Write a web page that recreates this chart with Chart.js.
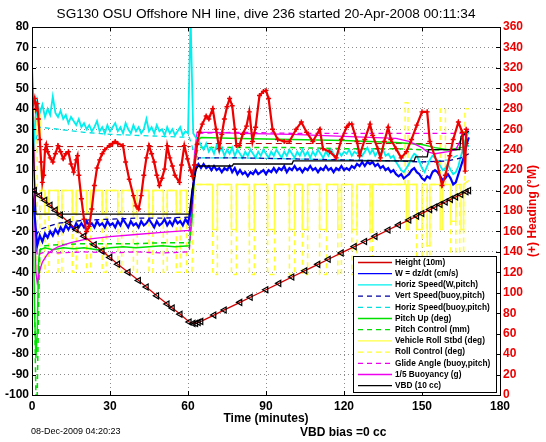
<!DOCTYPE html>
<html>
<head>
<meta charset="utf-8">
<script src="https://cdn.jsdelivr.net/npm/chart.js@4.4.0/dist/chart.umd.min.js"></script>
<style>
  body { margin: 0; background: #fff; }
</style>
</head>
<body>
<canvas id="dive" width="546" height="442"></canvas>
<script>
const FONT = "'Liberation Sans', Arial, Helvetica, sans-serif";

// time axis (minutes) shared by the noisy speed traces
const minutes = [
  0, 1, 2, 3, 4, 5, 6, 7, 8, 9, 10, 11, 12, 13, 14, 15, 16, 17, 18, 19,
  20, 21, 22, 23, 24, 25, 26, 27, 28, 29, 30, 31, 32, 33, 34, 35, 36, 37, 38, 39,
  40, 41, 42, 43, 44, 45, 46, 47, 48, 49, 50, 51, 52, 53, 54, 55, 56, 57, 58, 59,
  60, 61, 62, 63, 64, 65, 66, 67, 68, 69, 70, 71, 72, 73, 74, 75, 76, 77, 78, 79,
  80, 81, 82, 83, 84, 85, 86, 87, 88, 89, 90, 91, 92, 93, 94, 95, 96, 97, 98, 99,
  100, 101, 102, 103, 104, 105, 106, 107, 108, 109, 110, 111, 112, 113, 114, 115, 116, 117, 118, 119,
  120, 121, 122, 123, 124, 125, 126, 127, 128, 129, 130, 131, 132, 133, 134, 135, 136, 137, 138, 139,
  140, 141, 142, 143, 144, 145, 146, 147, 148, 149, 150, 151, 152, 153, 154, 155, 156, 157, 158, 159,
  160, 161, 162, 163, 164, 165, 166, 167, 168
];

// W = dz/dt (cm/s)
const wSpeed = [
  0, -12, -27, -22, -25, -21, -23, -20, -22, -19, -21, -18, -20, -17, -19, -17, -19, -16, -18, -16,
  -18, -15, -17, -16, -18, -15, -17, -16, -18, -15, -17, -16, -18, -15, -17, -14, -16, -18, -15, -17,
  -16, -18, -15, -17, -16, -14, -16, -18, -15, -17, -16, -14, -17, -15, -17, -14, -16, -15, -17, -14,
  -16, -10, 2, 11, 13, 11, 13, 11, 12, 10, 12, 10, 11, 9, 11, 10, 12, 9, 11, 8,
  10, 8, 9, 7, 9, 8, 10, 8, 9, 10, 8, 10, 9, 11, 9, 11, 10, 12, 9, 11,
  10, 12, 10, 11, 9, 11, 10, 12, 10, 11, 9, 11, 10, 12, 10, 11, 9, 11, 10, 12,
  10, 11, 10, 12, 11, 13, 12, 14, 12, 14, 13, 14, 12, 13, 11, 12, 10, 11, 9, 10,
  8, 7, 8, 6, 7, 8, 10, 11, 9, 8, 6, 5, 7, 6, 9, 10, 9, 7, 5, 6,
  8, 6, 3, 4, 8, 12, 16, 22, 26
];

// Horiz Speed (W,pitch)
const horizW = [
  10, 30, 44, 38, 42, 36, 40, 37, 46, 38, 36, 39, 35, 37, 33, 36, 34, 32, 35, 31,
  33, 30, 32, 29, 31, 34, 29, 31, 28, 32, 29, 31, 33, 29, 31, 28, 33, 30, 28, 32,
  29, 31, 28, 30, 35, 29, 31, 28, 32, 29, 30, 27, 31, 28, 30, 27, 29, 31, 27, 29,
  28, 85, 28, 26, 25, 22, 20, 23, 19, 21, 18, 22, 19, 21, 17, 20, 18, 21, 17, 20,
  18, 16, 19, 17, 20, 18, 16, 19, 17, 20, 18, 16, 19, 17, 20, 18, 16, 19, 17, 20,
  18, 16, 19, 17, 20, 17, 19, 16, 19, 17, 20, 18, 16, 19, 17, 20, 18, 16, 19, 17,
  19, 18, 20, 17, 19, 18, 20, 17, 19, 21, 18, 20, 17, 19, 18, 20, 17, 18, 16, 17,
  14, 12, 10, 9, 11, 13, 16, 18, 17, 14, 11, 9, 12, 15, 17, 16, 14, 12, 10, 11,
  13, 10, 8, 9, 12, 17, 21, 26, 29
];

// Height (10m)
const heightT = [1, 3, 5, 7, 9, 11, 14, 17, 20, 24, 27, 30, 33, 37, 41, 44, 48, 52, 54, 57, 60.5, 62, 63, 64, 65,
  70, 74, 80, 84, 90, 95, 100, 105, 110, 114, 119, 124, 128, 132, 137, 141, 145, 148, 150, 153, 155, 157, 159, 161, 163, 165, 167, 168];
const heightV = [0, -2.4, -4.8, -7.2, -9.6, -12, -15.5, -19, -22.3, -26.5, -29.6, -32.7, -36, -40, -44, -47.2, -51.5, -55.5, -57.5, -60.5, -64.3, -65, -65, -64.5, -64,
  -60.9, -58.4, -54.7, -52.2, -48.5, -45.4, -42.3, -39.2, -36.1, -33.6, -30.5, -27.4, -24.9, -22.4, -19.3, -16.8, -14.4, -12.5, -11.2, -9.3, -8.1, -6.8, -5.6, -4.3, -3.1, -1.9, -0.6, 0];

// Vert Speed (buoy,pitch)
const vertBuoyT = [1.5, 3, 10, 20, 30, 40, 50, 60.5, 61.5, 62.5, 64, 80, 100, 120, 140, 150, 160, 165, 168];
const vertBuoyV = [-22, -19, -16, -14.5, -14, -13.5, -13.5, -13, -6, 8, 16, 16, 15.5, 15, 14.5, 14, 14.5, 16, 18];

// Horiz Speed (buoy,pitch)
const horizBuoyT = [1.5, 3, 10, 20, 30, 40, 50, 60.5, 61.5, 62.5, 64, 80, 100, 120, 140, 150, 160, 165, 168];
const horizBuoyV = [25, 31, 30, 28.5, 27.5, 27, 26.5, 26, 22, 18, 16, 16, 15.5, 15, 14.5, 14, 15, 18, 22];

// Pitch Up (deg)
const pitchT = [0, 0.5, 1, 1.5, 2, 2.5, 3, 5, 8, 12, 16, 20, 25, 30, 35, 40, 45, 50, 55, 60.5, 61.5, 62.5, 63.5, 65, 80, 100, 120, 140, 150, 155, 160, 165, 168];
const pitchV = [10, -20, -60, -82, -70, -35, -29, -28, -29, -28, -28.5, -28, -29, -28, -27.5, -28, -27.5, -27, -27.5, -27, -15, 10, 24, 26, 25.5, 25, 24.5, 23.5, 22.5, 21, 20, 21, 22];

// Pitch Control (mm)
const pitchCtlT = [1, 1.5, 2, 2.5, 3, 3.5, 5, 10, 20, 30, 40, 50, 60.5, 61.5, 62.5, 64, 80, 100, 120, 140, 150, 160, 168];
const pitchCtlV = [-60, -100, -100, -60, -30, -28, -27, -26.5, -26, -26, -26, -25.5, -25.5, -5, 15, 21, 21, 21, 20.5, 20.5, 20, 20, 20];

// Glide Angle (buoy,pitch)
const glideT = [1.5, 2, 3, 5, 10, 20, 30, 40, 50, 60.5, 61.5, 62.5, 64, 80, 100, 120, 140, 150, 160, 165, 168];
const glideV = [-20, -32, -31, -30, -30.5, -30, -30.5, -30, -30.5, -30, -10, 15, 28, 28.5, 28, 28, 28, 28, 28, 28, 28];

// 1/5 Buoyancy (g)
const buoyT = [0, 0.5, 1, 1.5, 2, 3, 4, 6, 8, 10, 15, 20, 30, 40, 50, 60.5, 61.5, 62.5, 63.5, 70, 80, 100, 120, 140, 145, 150, 152, 155, 160, 163, 165, 168];
const buoyV = [65, 45, -10, -40, -45, -39, -35, -31, -29, -27.5, -25.5, -24, -22.5, -21.5, -20.5, -19.5, -10, 18, 28.5, 28.5, 28, 27.5, 26.5, 25.5, 24, 21, 19, 18, 19, 20, 25, 30];

// VBD (10 cc)
const vbdT = [0, 0.8, 1.5, 60.5, 61.5, 63, 64, 77, 77.5, 100, 100.5, 147, 147.5, 152, 152.5, 164.5, 165, 168];
const vbdV = [45, 10, -11.5, -11.5, 0, 10, 12, 12, 13, 13, 14.5, 14.5, 16.5, 16.5, 20, 20, 26.5, 29];

// Vehicle Roll Stbd (deg)
const rollT = [0, 1, 1.5, 2, 3, 3.5, 4,
  5, 5, 6.5, 6.5, 10, 10, 11.5, 11.5, 15.5, 15.5, 17, 17, 21, 21, 22.5, 22.5,
  27, 27, 28.5, 28.5, 33, 33, 34.5, 34.5, 39, 39, 40.5, 40.5, 45, 45, 46.5, 46.5,
  50.5, 50.5, 52, 52, 55.5, 55.5, 57, 57, 59.5, 59.5, 61.5, 62.5,
  69.5, 69.5, 71.3, 71.3, 76.7, 76.7, 78.6, 78.6, 83.6, 83.6, 85.5, 85.5,
  90.6, 90.6, 93.3, 93.3, 99, 99, 101, 101, 104, 104, 106, 106,
  110.6, 110.6, 113.3, 113.3, 117.6, 117.6, 119, 119, 123, 123, 125, 125,
  130, 130, 131, 131, 144, 144, 145, 145, 148, 148, 150, 150,
  152, 152, 153, 153, 157, 157, 158, 158, 161, 161, 163, 163, 165, 165, 166, 166, 168];
const rollV = [0, -15, 40, 42, 38, 10, 0,
  0, -11, -11, 0, 0, -11, -11, 0, 0, -11, -11, 0, 0, -11, -11, 0,
  0, -11, -11, 0, 0, -11, -11, 0, 0, -11, -11, 0, 0, -11, -11, 0,
  0, -11, -11, 0, 0, -11, -11, 0, 0, -11, -11, 3,
  3, -19, -19, 3, 3, -19, -19, 3, 3, -19, -19, 3,
  3, -19, -19, 3, 3, -19, -19, 3, 3, -19, -19, 3,
  3, -19, -19, 3, 3, -19, -19, 3, 3, -19, -19, 3,
  3, -19, -19, 3, 3, -19, -19, 3, 3, -19, -19, 3,
  3, -27, -27, 3, 3, -19, -19, 3, 3, -15, -15, 3, 3, -19, -19, 3, 5];

// Roll Control (deg)
const rollCtlT = [0, 1.2, 1.2, 2, 2, 3, 3,
  5, 5, 6.5, 6.5, 10, 10, 11.5, 11.5, 15.5, 15.5, 17, 17, 21, 21, 22.5, 22.5,
  27, 27, 28.5, 28.5, 33, 33, 34.5, 34.5, 39, 39, 40.5, 40.5, 45, 45, 46.5, 46.5,
  50.5, 50.5, 52, 52, 55.5, 55.5, 57, 57, 59.5, 59.5, 61.5, 62.5,
  69.5, 69.5, 71.3, 71.3, 76.7, 76.7, 78.6, 78.6, 83.6, 83.6, 85.5, 85.5,
  90.6, 90.6, 93.3, 93.3, 99, 99, 101, 101, 104, 104, 106, 106,
  110.6, 110.6, 113.3, 113.3, 117.6, 117.6, 119, 119, 123, 123, 125, 125,
  130, 130, 131, 131, 143.5, 143.5, 144.6, 144.6, 148, 148, 150, 150,
  152, 152, 153, 153, 157, 157, 159, 159, 161, 161, 163, 163,
  164.5, 164.5, 166, 166, 166.5, 166.5, 168];
const rollCtlV = [0, 0, 40, 40, -40, -40, 0,
  0, -40, -40, 0, 0, -40, -40, 0, 0, -40, -40, 0, 0, -40, -40, 0,
  0, -40, -40, 0, 0, -40, -40, 0, 0, -40, -40, 0, 0, -40, -40, 0,
  0, -40, -40, 0, 0, -40, -40, 0, 0, -40, -40, 3,
  3, -41, -41, 3, 3, -41, -41, 3, 3, -41, -41, 3,
  3, -41, -41, 3, 3, -41, -41, 3, 3, -41, -41, 3,
  3, -41, -41, 3, 3, -41, -41, 3, 3, -41, -41, 3,
  3, -41, -41, 3, 3, 43, 43, 3, 3, -41, -41, 3,
  3, -41, -41, 3, 3, 40, 40, 3, 3, -30, -30, 3,
  3, -30, -30, 3, 3, 40, 40];

// (+) Heading (deg M), right axis
const headingT = [0.5, 1, 1.5, 2, 2.5, 3, 3.5, 4, 4.5, 5, 5.5, 6, 7, 8, 9, 10, 11, 12, 13, 14, 15, 16, 17, 17.5, 18, 19, 20, 21, 22, 23, 24, 25, 26, 27, 28,
  29.7, 31, 32, 33, 35, 36, 37.4, 39, 40, 41, 42, 43, 44, 45, 46, 47, 48, 49, 50, 51, 52, 53, 54, 55, 56.7, 57.5, 58.6, 59.8, 61, 61.7,
  62.5, 63.5, 64.4, 65.5, 67, 68, 69.5, 70.8, 72, 73, 74, 75, 76, 77, 78, 78.6, 79.8, 81, 82.5, 83.6, 84.8, 86, 87.5, 89, 90, 91, 92.5, 94.5, 97, 99,
  101.6, 103.6, 105.6, 108, 110.7, 111.9, 114.5, 117, 119, 121, 122, 123, 125, 126, 128, 130, 131, 133, 134, 135.5, 137, 138, 140, 142, 144, 146, 148,
  150, 152, 153, 155.7, 157.7, 159, 160.7, 162, 164, 165.5, 166.6, 167];
const headingV = [285, 290, 280, 285, 270, 250, 228, 208, 215, 240, 245, 238, 232, 228, 236, 244, 238, 231, 236, 238, 226, 218, 230, 234, 215, 192, 172, 160, 165, 182, 205, 222, 230, 236, 240,
  244, 246, 248, 246, 244, 228, 211, 195, 185, 182, 195, 215, 232, 244, 236, 228, 215, 205, 212, 221, 244, 232, 224, 215, 208, 225, 244, 231, 220, 214,
  225, 245, 257, 265, 273, 270, 280, 260, 241, 255, 270, 282, 290, 283, 260, 244, 244, 255, 263, 277, 248, 262, 293, 297, 298, 290, 260, 250, 248, 248,
  260, 267, 257, 248, 260, 241, 238, 232, 250, 262, 265, 265, 248, 234, 250, 265, 254, 241, 232, 248, 262, 250, 241, 232, 238, 250, 264,
  277, 277, 248, 228, 205, 215, 234, 250, 267, 257, 219, 260];

// desired heading, right axis
const headingSetT = [2, 61, 62, 63, 168];
const headingSetV = [243, 243, null, 246, 246];

const leftTicks = [80, 70, 60, 50, 40, 30, 20, 10, 0, -10, -20, -30, -40, -50, -60, -70, -80, -90, -100];
const timeTicks = [0, 30, 60, 90, 120, 150, 180];

const xy = (ts, vs) => ts.map((t, i) => ({ x: t, y: vs[i] }));

const line = (label, data, color, extra) => Object.assign({
  label, data, borderColor: color, backgroundColor: color,
  borderWidth: 1.3, pointRadius: 0, tension: 0, yAxisID: 'y', spanGaps: false
}, extra);

const datasets = [
  line('Height (10m)', xy(heightT, heightV), '#d40000', {
    order: 0, borderWidth: 1.3, pointRadius: 3.5, pointStyle: 'triangle', pointRotation: -90,
    pointBorderColor: '#000', pointBackgroundColor: 'rgba(0,0,0,0)', pointBorderWidth: 1.2
  }),
  line('Heading', xy(headingT, headingV), '#ee0000', {
    order: 1, yAxisID: 'y2', borderWidth: 2.2, pointRadius: 2.5, pointStyle: 'cross', pointBorderWidth: 1.4
  }),
  line('VBD (10 cc)', xy(vbdT, vbdV), '#000000', { order: 2 }),
  line('W = dz/dt (cm/s)', xy(minutes, wSpeed), '#0000ff', { order: 3, borderWidth: 2.2 }),
  line('Vert Speed(buoy,pitch)', xy(vertBuoyT, vertBuoyV), '#0000a0', { order: 4, borderDash: [5, 4] }),
  line('Horiz Speed(W,pitch)', xy(minutes, horizW), '#00f0f0', { order: 5, borderWidth: 1.8 }),
  line('Horiz Speed(buoy,pitch)', xy(horizBuoyT, horizBuoyV), '#00e0e0', { order: 6, borderDash: [5, 4] }),
  line('1/5 Buoyancy (g)', xy(buoyT, buoyV), '#ee00ee', { order: 7 }),
  line('Glide Angle (buoy,pitch)', xy(glideT, glideV), '#ee00ee', { order: 8, borderDash: [5, 4] }),
  line('Pitch Up (deg)', xy(pitchT, pitchV), '#00e000', { order: 9, borderWidth: 1.5 }),
  line('Pitch Control (mm)', xy(pitchCtlT, pitchCtlV), '#00e000', { order: 10, borderDash: [5, 4], borderWidth: 1.5 }),
  line('Vehicle Roll Stbd (deg)', xy(rollT, rollV), '#ffff40', { order: 11, borderWidth: 1.5 }),
  line('Roll Control (deg)', xy(rollCtlT, rollCtlV), '#ffff30', { order: 12, borderDash: [5, 4], borderWidth: 1.5 }),
  line('Heading set', xy(headingSetT, headingSetV), '#b00000', { order: 13, yAxisID: 'y2', borderDash: [6, 4], borderWidth: 1 })
];

const legendLabels = ['Height (10m)', 'W = dz/dt (cm/s)', 'Horiz Speed(W,pitch)', 'Vert Speed(buoy,pitch)',
  'Horiz Speed(buoy,pitch)', 'Pitch Up (deg)', 'Pitch Control (mm)', 'Vehicle Roll Stbd (deg)',
  'Roll Control (deg)', 'Glide Angle (buoy,pitch)', '1/5 Buoyancy (g)', 'VBD (10 cc)'];

// box, inward ticks, texts and the in-plot legend
const decorations = {
  id: 'decorations',
  afterDraw(chart) {
    const { ctx, chartArea: a, scales } = chart;
    ctx.save();
    ctx.strokeStyle = '#000';
    ctx.lineWidth = 1;
    ctx.strokeRect(a.left + 0.5, a.top + 0.5, a.right - a.left, a.bottom - a.top);
    ctx.beginPath();
    timeTicks.forEach(t => {
      const x = Math.round(scales.x.getPixelForValue(t)) + 0.5;
      ctx.moveTo(x, a.top); ctx.lineTo(x, a.top + 4);
      ctx.moveTo(x, a.bottom); ctx.lineTo(x, a.bottom - 4);
    });
    leftTicks.forEach(v => {
      const y = Math.round(scales.y.getPixelForValue(v)) + 0.5;
      ctx.moveTo(a.left, y); ctx.lineTo(a.left + 4, y);
      ctx.moveTo(a.right, y); ctx.lineTo(a.right - 4, y);
    });
    ctx.stroke();

    ctx.fillStyle = '#000';
    ctx.textAlign = 'center';
    ctx.textBaseline = 'middle';
    ctx.font = '13.6px ' + FONT;
    ctx.fillText('SG130 OSU Offshore NH line, dive 236 started 20-Apr-2008 00:11:34', (a.left + a.right) / 2, 14);
    ctx.font = 'bold 12px ' + FONT;
    ctx.fillText('Time (minutes)', (a.left + a.right) / 2, 419);
    ctx.textAlign = 'left';
    ctx.fillText('VBD bias =0 cc', 300, 433);
    ctx.font = '9px ' + FONT;
    ctx.fillText('08-Dec-2009 04:20:23', 31, 432);

    ctx.save();
    ctx.translate(533, (a.top + a.bottom) / 2);
    ctx.rotate(-Math.PI / 2);
    ctx.textAlign = 'center';
    ctx.fillStyle = '#ee0000';
    ctx.font = 'bold 12px ' + FONT;
    ctx.fillText('(+) Heading (\u00B0M)', 0, 0);
    ctx.restore();

    // legend
    const lx = 353, ly = 256, lw = 143, lh = 136;
    ctx.fillStyle = '#fff';
    ctx.fillRect(lx, ly, lw, lh);
    ctx.strokeRect(lx + 0.5, ly + 0.5, lw, lh);
    ctx.font = 'bold 8.3px ' + FONT;
    ctx.textAlign = 'left';
    legendLabels.forEach((lab, i) => {
      const ds = chart.data.datasets.find(d => d.label === lab);
      const y = ly + 6.5 + i * 11.2;
      ctx.strokeStyle = ds.borderColor;
      ctx.lineWidth = 1.3;
      ctx.setLineDash(ds.borderDash || []);
      ctx.beginPath();
      ctx.moveTo(358, y); ctx.lineTo(392, y);
      ctx.stroke();
      ctx.setLineDash([]);
      ctx.fillStyle = '#000';
      ctx.fillText(lab, 395, y);
    });
    ctx.restore();
  }
};

new Chart(document.getElementById('dive'), {
  type: 'line',
  data: { datasets },
  plugins: [decorations],
  options: {
    responsive: false,
    animation: false,
    devicePixelRatio: 1,
    layout: { padding: { top: 27, left: 0, right: 0, bottom: 0 } },
    plugins: { legend: { display: false }, tooltip: { enabled: false }, title: { display: false } },
    scales: {
      x: {
        type: 'linear', min: 0, max: 180,
        afterFit: s => { s.height = 47; },
        afterBuildTicks: s => { s.ticks = timeTicks.map(v => ({ value: v })); },
        ticks: { color: '#000', padding: 4, font: { family: FONT, size: 12, weight: 'bold' }, maxRotation: 0 },
        grid: { color: '#8c8c8c', drawTicks: false },
        border: { display: false, dash: [1, 3] }
      },
      y: {
        position: 'left', min: -100, max: 80,
        afterFit: s => { s.width = 32; },
        afterBuildTicks: s => { s.ticks = leftTicks.map(v => ({ value: v })); },
        ticks: { color: '#000', padding: 3, font: { family: FONT, size: 12, weight: 'bold' } },
        grid: { color: '#8c8c8c', drawTicks: false },
        border: { display: false, dash: [1, 3] }
      },
      y2: {
        position: 'right', min: 0, max: 360,
        afterFit: s => { s.width = 46; },
        ticks: { stepSize: 20, color: '#ee0000', padding: 3, font: { family: FONT, size: 12, weight: 'bold' } },
        grid: { display: false, drawTicks: false },
        border: { display: false }
      }
    }
  }
});
</script>
</body>
</html>
